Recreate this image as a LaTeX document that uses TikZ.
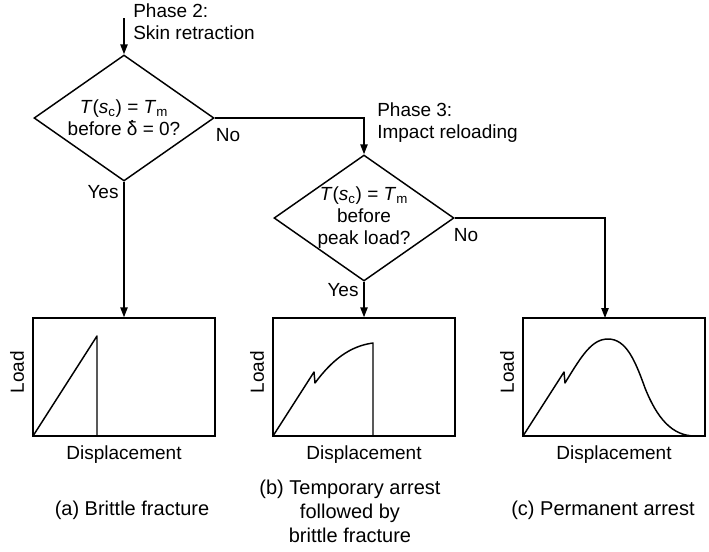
\documentclass[tikz,border=0pt]{standalone}
\usepackage{fontspec}
\setmainfont{Liberation Sans}
\usetikzlibrary{shapes.geometric,arrows.meta,positioning}

\tikzstyle{decision} = [diamond, draw, line width=1.1pt, aspect=1.43, minimum width=135pt, minimum height=94.5pt, inner sep=-3pt, text centered, align=center]
\tikzstyle{panel} = [rectangle, draw, line width=1.1pt, minimum width=136.5pt, minimum height=88.5pt]
\tikzstyle{flow} = [draw, line width=1.1pt, -{Triangle[length=7.5pt,width=5.5pt]}]
\tikzstyle{curve} = [line width=1.1pt, line join=round]
\tikzstyle{caption} = [align=center, inner sep=0pt, font=\fontsize{15}{18}\selectfont]

\newcommand{\meltcond}{\textit{T}(\textit{s}\textsubscript{c}) = \textit{T}\textsubscript{m}}
\newcommand{\dotdelta}{\ooalign{δ\cr\hidewidth\smash{\raisebox{0.68em}{.}}\hidewidth\cr}}

\begin{document}
\begin{tikzpicture}[x=0.75pt, y=-0.75pt, font=\fontsize{14.25}{16.5}\selectfont]
        \useasboundingbox (0,0) rectangle (709,551);
        % phase 2: skin retraction
        \coordinate (start) at (124,18);
        \node[decision] (skin) at (124,118) {\meltcond\\before \dotdelta{} = 0?};
        \node[anchor=west, align=left, inner sep=0pt] (phase2) at (133,22) {Phase 2:\\Skin retraction};
        % phase 3: impact reloading
        \node[decision] (reload) at (364,218) {\meltcond\\before\\peak load?};
        \node[anchor=west, align=left, inner sep=0pt] (phase3) at (377,123) {Phase 3:\\Impact reloading};
        % load-displacement panels
        \node[panel] (plotA) at (124,377) {};
        \node[panel] (plotB) at (364,377) {};
        \node[panel] (plotC) at (614,377) {};
        \coordinate (arrestIn) at (605,318);
        % connectors
        \draw[flow] (start) -- (skin.north);
        \draw[flow] (skin.east) -| (reload.north);
        \draw[flow] (skin.south) -- (plotA.north);
        \draw[flow] (reload.south) -- (plotB.north);
        \draw[flow] (reload.east) -| (arrestIn);
        \node (noSkin) at (228,135) {No};
        \node (yesSkin) at (103,192) {Yes};
        \node (noReload) at (466,235) {No};
        \node (yesReload) at (343,290) {Yes};
        % axes labels
        \node[rotate=90] (loadA) at (17,372) {Load};
        \node[rotate=90] (loadB) at (257,372) {Load};
        \node[rotate=90] (loadC) at (507,372) {Load};
        \node[below=3pt of plotA] (dispA) {Displacement};
        \node[below=3pt of plotB] (dispB) {Displacement};
        \node[below=3pt of plotC] (dispC) {Displacement};
        % curves
        \draw[curve] (33,436) -- (97,336) -- (97,436);
        \draw[curve] (273,436) -- (314,372) -- (315,383) .. controls (332,360) and (350,346) .. (373,343) -- (373,436);
        \draw[curve] (523,436) -- (564,372) -- (565,383) .. controls (582,355) and (592,339) .. (608,339)
                .. controls (626,339) and (635,360) .. (645,388) .. controls (657,418) and (672,436) .. (695,436);
        % captions
        \node[caption] (capA) at (132,510) {(a) Brittle fracture};
        \node[caption] (capB) at (350,511) {(b) Temporary arrest\\followed by\\brittle fracture};
        \node[caption] (capC) at (603,510) {(c) Permanent arrest};
\end{tikzpicture}
\end{document}
